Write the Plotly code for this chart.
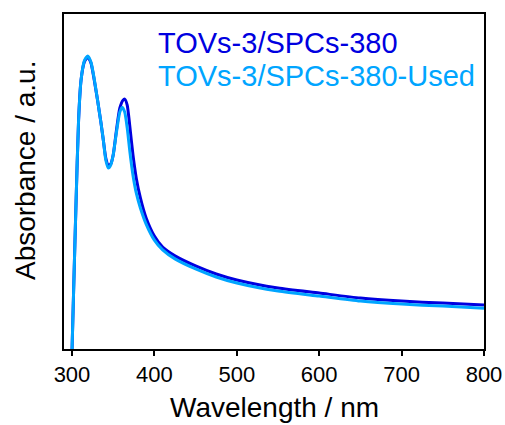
import plotly.graph_objects as go

wl_fresh = [300, 302, 305, 308, 311, 315, 319, 323, 327, 331,
            335, 338, 341, 344, 347, 350, 354, 358, 362, 364,
            367, 370, 374, 378, 383, 390, 400, 410, 425, 450,
            475, 500, 550, 600, 650, 700, 750, 800]
abs_fresh = [-0.009, 0.176, 0.445, 0.684, 0.803, 0.857, 0.872, 0.854, 0.803, 0.743,
             0.678, 0.624, 0.570, 0.549, 0.552, 0.579, 0.654, 0.719, 0.743, 0.746,
             0.728, 0.669, 0.579, 0.510, 0.451, 0.391, 0.337, 0.304, 0.278, 0.248,
             0.224, 0.206, 0.182, 0.167, 0.152, 0.143, 0.137, 0.131]

wl_used = [300, 302, 305, 308, 311, 315, 319, 323, 327, 331,
           335, 338, 341, 344, 347, 350, 354, 358, 361, 364,
           367, 370, 374, 378, 383, 390, 400, 410, 425, 450,
           475, 500, 550, 600, 650, 700, 750, 800]
abs_used = [-0.009, 0.176, 0.445, 0.684, 0.803, 0.860, 0.875, 0.857, 0.806, 0.743,
            0.678, 0.624, 0.564, 0.540, 0.549, 0.579, 0.648, 0.707, 0.722, 0.707,
            0.660, 0.594, 0.519, 0.466, 0.421, 0.373, 0.325, 0.296, 0.269, 0.239,
            0.215, 0.197, 0.173, 0.158, 0.143, 0.134, 0.128, 0.122]

x_ticks = [300, 400, 500, 600, 700, 800]
names = ["TOVs-3/SPCs-380", "TOVs-3/SPCs-380-Used"]
colors = ["#0000E0", "#00A5FF"]
x_title = "Wavelength / nm"
y_title = "Absorbance / a.u."

FONT = "Liberation Sans, Arial, sans-serif"

fig = go.Figure()
fig.add_trace(go.Scatter(x=wl_fresh, y=abs_fresh, mode="lines", name=names[0],
                         line=dict(color=colors[0], width=3, shape="spline", smoothing=0.6)))
fig.add_trace(go.Scatter(x=wl_used, y=abs_used, mode="lines", name=names[1],
                         line=dict(color=colors[1], width=3, shape="spline", smoothing=0.6)))

for i, (nm, c) in enumerate(zip(names, colors)):
    fig.add_annotation(text=nm, xref="paper", yref="paper", x=0.219, y=0.912 - i * 0.098,
                       xanchor="left", yanchor="middle", showarrow=False,
                       font=dict(family=FONT, size=29, color=c))

fig.add_annotation(text=x_title, xref="paper", yref="paper", x=0.5, y=-0.176,
                   xanchor="center", yanchor="middle", showarrow=False,
                   font=dict(family=FONT, size=28, color="black"))
fig.add_annotation(text=y_title, xref="paper", yref="paper", x=-0.093, y=0.534,
                   xanchor="center", yanchor="middle", showarrow=False, textangle=-90,
                   font=dict(family=FONT, size=28, color="black"))

fig.update_layout(
    width=505, height=425,
    margin=dict(l=64, r=21, t=14, b=76, autoexpand=False),
    plot_bgcolor="white", paper_bgcolor="white",
    showlegend=False,
    font=dict(family=FONT, color="black"),
)
fig.update_xaxes(range=[290.3, 800], tickvals=x_ticks, ticks="outside", ticklen=5,
                 tickwidth=1.5, tickcolor="black", showline=True, linecolor="black",
                 linewidth=1.5, mirror=True, showgrid=False, zeroline=False,
                 automargin=False, tickfont=dict(size=22, family=FONT))
fig.update_yaxes(range=[0, 1], showticklabels=False, ticks="", showline=True,
                 linecolor="black", linewidth=1.5, mirror=True, showgrid=False,
                 zeroline=False, automargin=False)

fig.write_html(
    "out.html",
    config={"displayModeBar": False},
    post_script="document.body.style.margin='0';document.body.style.overflow='hidden';",
)
